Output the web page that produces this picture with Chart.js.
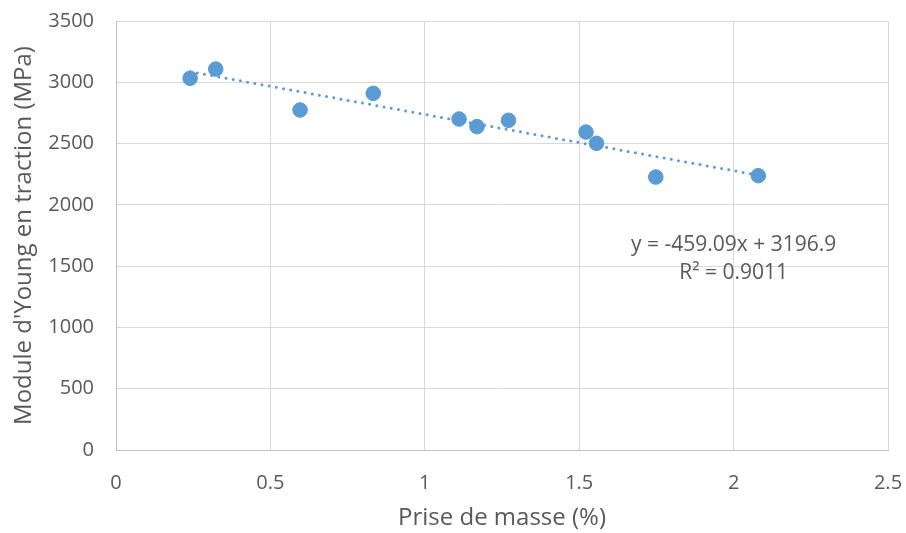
<!DOCTYPE html>
<html>
<head>
<meta charset="utf-8">
<script src="https://cdn.jsdelivr.net/npm/chart.js@4/dist/chart.umd.min.js"></script>
<style>
  html, body { margin: 0; padding: 0; background: #fff; }
  #wrap { width: 906px; height: 533px; }
</style>
</head>
<body>
<div id="wrap"><canvas id="youngChart"></canvas></div>
<script>
// Prise de masse (%) vs module d'Young (MPa)
const priseMasse = [0.24, 0.323, 0.596, 0.833, 1.111, 1.169, 1.271, 1.522, 1.556, 1.748, 2.08];
const moduleYoung = [3033, 3108, 2774, 2910, 2700, 2638, 2690, 2594, 2502, 2227, 2238];

// linear trendline as printed on the chart
const pente = -459.09;
const ordonnee = 3196.9;
const equationText = ['y = -459.09x + 3196.9', 'R² = 0.9011'];

const blue = '#5B9BD5';
const grey = '#595959';

Chart.defaults.font.family = "'Open Sans', sans-serif";
Chart.defaults.font.size = 20;
Chart.defaults.color = grey;

const points = priseMasse.map((x, i) => ({ x: x, y: moduleYoung[i] }));
const xMin = Math.min(...priseMasse);
const xMax = Math.max(...priseMasse);
const trend = [
    { x: xMin, y: pente * xMin + ordonnee },
    { x: xMax, y: pente * xMax + ordonnee }
];

const equationLabel = {
    id: 'equationLabel',
    afterDraw(chart) {
        const { ctx, scales } = chart;
        const x = scales.x.getPixelForValue(2.0);
        const y = scales.y.getPixelForValue(1672);
        ctx.save();
        ctx.font = "21px 'Open Sans', sans-serif";
        ctx.fillStyle = grey;
        ctx.textAlign = 'center';
        ctx.textBaseline = 'middle';
        ctx.fillText(equationText[0], x, y);
        ctx.fillText(equationText[1], x, y + 28);
        ctx.restore();
    }
};

const ctx = document.getElementById('youngChart').getContext('2d');

new Chart(ctx, {
    type: 'scatter',
    data: {
        datasets: [
            {
                data: trend,
                showLine: true,
                borderColor: blue,
                borderWidth: 3,
                borderDash: [0, 7.3],
                borderCapStyle: 'round',
                pointRadius: 0,
                order: 0
            },
            {
                data: points,
                backgroundColor: blue,
                borderColor: blue,
                pointRadius: 7.3,
                pointHoverRadius: 7.3,
                order: 1
            }
        ]
    },
    options: {
        responsive: true,
        maintainAspectRatio: false,
        animation: false,
        layout: { padding: { top: 21, right: 18, left: 0, bottom: 0 } },
        plugins: {
            legend: { display: false },
            tooltip: { enabled: false }
        },
        scales: {
            x: {
                type: 'linear',
                min: 0,
                max: 2.5,
                ticks: { stepSize: 0.5, padding: 21, maxRotation: 0, callback: (v) => String(v) },
                grid: { color: '#D9D9D9', drawTicks: false },
                border: { color: '#BFBFBF' },
                title: {
                    display: true,
                    text: 'Prise de masse (%)',
                    font: { size: 24 },
                    padding: { top: 0, bottom: 0 }
                },
                afterFit: (axis) => {
                    axis.height = 83;
                    axis.paddingLeft = 0;
                    axis.paddingRight = 0;
                }
            },
            y: {
                min: 0,
                max: 3500,
                ticks: { stepSize: 500, padding: 22, callback: (v) => String(v) },
                grid: { color: '#D9D9D9', drawTicks: false },
                border: { color: '#BFBFBF' },
                title: {
                    display: true,
                    text: "Module d'Young en traction (MPa)",
                    font: { size: 24 },
                    padding: { top: 10, bottom: 0 }
                },
                afterFit: (axis) => {
                    axis.width = 116;
                    axis.paddingTop = 0;
                    axis.paddingBottom = 0;
                }
            }
        }
    },
    plugins: [equationLabel]
});
</script>
</body>
</html>
